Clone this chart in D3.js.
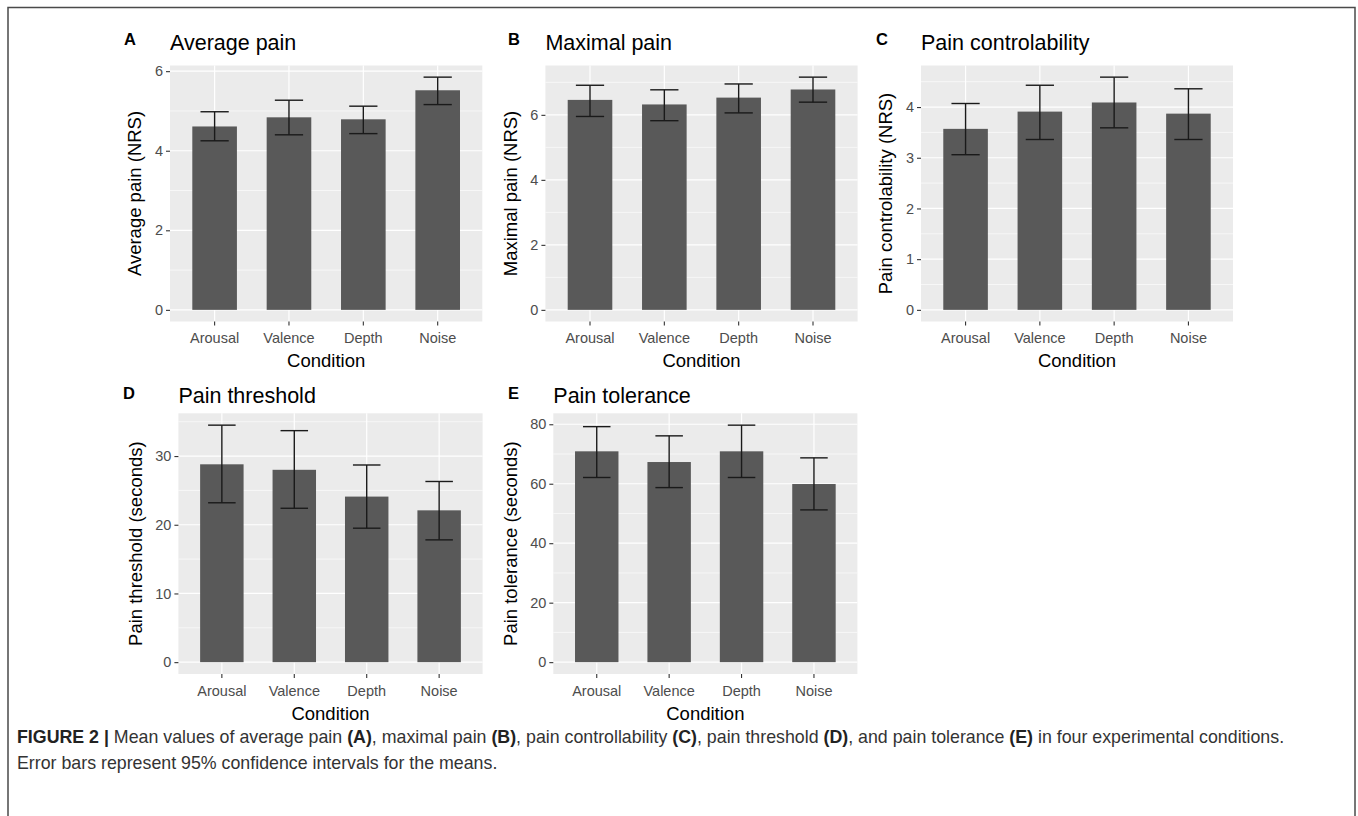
<!DOCTYPE html>
<html>
<head>
<meta charset="utf-8">
<script src="https://cdn.jsdelivr.net/npm/d3@7"></script>
<style>
  html, body { margin: 0; padding: 0; background: #ffffff; }
  svg { display: block; }
</style>
</head>
<body>
<svg id="chart" width="1358" height="816"></svg>
<script>
// ---------------- DATA ----------------
const categories = ["Arousal", "Valence", "Depth", "Noise"];

const avgPainMean = [4.61, 4.84, 4.79, 5.52];
const avgPainLow  = [4.25, 4.40, 4.43, 5.16];
const avgPainHigh = [4.98, 5.27, 5.12, 5.85];
const avgPainTicks = [0, 2, 4, 6];
const avgPainMinor = [1, 3, 5];

const maxPainMean = [6.46, 6.32, 6.53, 6.78];
const maxPainLow  = [5.95, 5.82, 6.06, 6.39];
const maxPainHigh = [6.91, 6.77, 6.95, 7.16];
const maxPainTicks = [0, 2, 4, 6];
const maxPainMinor = [1, 3, 5, 7];

const controlMean = [3.57, 3.91, 4.09, 3.87];
const controlLow  = [3.06, 3.36, 3.59, 3.36];
const controlHigh = [4.07, 4.43, 4.59, 4.36];
const controlTicks = [0, 1, 2, 3, 4];
const controlMinor = [0.5, 1.5, 2.5, 3.5, 4.5];

const thresholdMean = [28.8, 28.0, 24.1, 22.1];
const thresholdLow  = [23.2, 22.4, 19.5, 17.8];
const thresholdHigh = [34.5, 33.7, 28.7, 26.3];
const thresholdTicks = [0, 10, 20, 30];
const thresholdMinor = [5, 15, 25, 35];

const toleranceMean = [70.9, 67.3, 70.9, 59.9];
const toleranceLow  = [62.1, 58.7, 62.1, 51.2];
const toleranceHigh = [79.2, 76.1, 79.7, 68.7];
const toleranceTicks = [0, 20, 40, 60, 80];
const toleranceMinor = [10, 30, 50, 70];

const panelLetters = ["A", "B", "C", "D", "E"];
const panelTitles = ["Average pain", "Maximal pain", "Pain controlability", "Pain threshold", "Pain tolerance"];
const yTitles = ["Average pain (NRS)", "Maximal pain (NRS)", "Pain controlability (NRS)", "Pain threshold (seconds)", "Pain tolerance (seconds)"];
const xTitle = "Condition";

// ---------------- LAYOUT ----------------
const FONT = "'Liberation Sans', Arial, Helvetica, sans-serif";
const layout = [
  {left: 170.0, right: 482.3, top: 65.5, bottom: 321.5, letterX: 124, letterY: 45, titleY: 50},
  {left: 545.4, right: 857.6, top: 65.5, bottom: 321.5, letterX: 508, letterY: 45, titleY: 50},
  {left: 921.0, right: 1233.0, top: 65.5, bottom: 321.5, letterX: 876, letterY: 45, titleY: 50},
  {left: 178.4, right: 482.6, top: 413.3, bottom: 674.0, letterX: 123, letterY: 399, titleY: 403},
  {left: 553.3, right: 857.4, top: 413.3, bottom: 674.0, letterX: 508, letterY: 399, titleY: 403}
];

const panels = [
  {mean: avgPainMean, low: avgPainLow, high: avgPainHigh, ticks: avgPainTicks, minor: avgPainMinor},
  {mean: maxPainMean, low: maxPainLow, high: maxPainHigh, ticks: maxPainTicks, minor: maxPainMinor},
  {mean: controlMean, low: controlLow, high: controlHigh, ticks: controlTicks, minor: controlMinor},
  {mean: thresholdMean, low: thresholdLow, high: thresholdHigh, ticks: thresholdTicks, minor: thresholdMinor},
  {mean: toleranceMean, low: toleranceLow, high: toleranceHigh, ticks: toleranceTicks, minor: toleranceMinor}
];

const svg = d3.select("#chart");

// outer frame
svg.append("rect")
  .attr("x", 8).attr("y", 7.5)
  .attr("width", 1347).attr("height", 830)
  .attr("fill", "none").attr("stroke", "#4a4a4a").attr("stroke-width", 1.5);

panels.forEach((p, i) => {
  const L = layout[i];
  const g = svg.append("g");

  const hiMax = d3.max(p.high);
  const pad = hiMax * 0.05;
  const y = d3.scaleLinear().domain([-pad, hiMax + pad]).range([L.bottom, L.top]);
  const x = d3.scaleBand().domain(categories).range([L.left, L.right])
    .paddingInner(0.4).paddingOuter(0.3);
  const step = x.step();

  // panel background
  g.append("rect")
    .attr("x", L.left).attr("y", L.top)
    .attr("width", L.right - L.left).attr("height", L.bottom - L.top)
    .attr("fill", "#EBEBEB");

  // minor grid
  g.selectAll(".minor").data(p.minor.filter(v => y(v) >= L.top)).enter().append("line")
    .attr("x1", L.left).attr("x2", L.right)
    .attr("y1", d => y(d)).attr("y2", d => y(d))
    .attr("stroke", "#ffffff").attr("stroke-width", 0.6);

  // major grid (y)
  g.selectAll(".major").data(p.ticks).enter().append("line")
    .attr("x1", L.left).attr("x2", L.right)
    .attr("y1", d => y(d)).attr("y2", d => y(d))
    .attr("stroke", "#ffffff").attr("stroke-width", 1.2);

  // major grid (x)
  g.selectAll(".xmajor").data(categories).enter().append("line")
    .attr("x1", d => x(d) + x.bandwidth() / 2).attr("x2", d => x(d) + x.bandwidth() / 2)
    .attr("y1", L.top).attr("y2", L.bottom)
    .attr("stroke", "#ffffff").attr("stroke-width", 1.2);

  // bars
  g.selectAll(".bar").data(categories).enter().append("rect")
    .attr("x", d => x(d))
    .attr("width", x.bandwidth())
    .attr("y", (d, j) => y(p.mean[j]))
    .attr("height", (d, j) => y(0) - y(p.mean[j]))
    .attr("fill", "#595959");

  // error bars
  const capHalf = step * 0.19;
  categories.forEach((c, j) => {
    const cx = x(c) + x.bandwidth() / 2;
    const eg = g.append("g").attr("stroke", "#1a1a1a").attr("stroke-width", 1.4).attr("fill", "none");
    eg.append("line").attr("x1", cx).attr("x2", cx).attr("y1", y(p.low[j])).attr("y2", y(p.high[j]));
    eg.append("line").attr("x1", cx - capHalf).attr("x2", cx + capHalf).attr("y1", y(p.high[j])).attr("y2", y(p.high[j]));
    eg.append("line").attr("x1", cx - capHalf).attr("x2", cx + capHalf).attr("y1", y(p.low[j])).attr("y2", y(p.low[j]));
  });

  // y axis
  const yAxis = d3.axisLeft(y).tickValues(p.ticks).tickSize(4).tickPadding(3).tickFormat(d3.format("d"));
  const ya = g.append("g").attr("transform", `translate(${L.left},0)`).call(yAxis);
  ya.select(".domain").remove();
  ya.selectAll(".tick line").attr("stroke", "#333333").attr("stroke-width", 1.1);
  ya.selectAll(".tick text").attr("fill", "#4D4D4D").style("font-family", FONT).style("font-size", "14.5px");

  // x axis
  const xAxis = d3.axisBottom(x).tickSize(4).tickPadding(4);
  const xa = g.append("g").attr("transform", `translate(0,${L.bottom})`).call(xAxis);
  xa.select(".domain").remove();
  xa.selectAll(".tick line").attr("stroke", "#333333").attr("stroke-width", 1.1);
  xa.selectAll(".tick text").attr("fill", "#4D4D4D").style("font-family", FONT).style("font-size", "14.5px")
    .attr("dy", null).attr("y", 21.5).attr("dominant-baseline", "alphabetic");

  // x title
  g.append("text")
    .attr("x", (L.left + L.right) / 2).attr("y", L.bottom + 45.5)
    .attr("text-anchor", "middle")
    .style("font-family", FONT).style("font-size", "18.5px").attr("fill", "#000")
    .text(xTitle);

  // y title: position based on tick label width
  let maxW = 0;
  ya.selectAll(".tick text").each(function() { maxW = Math.max(maxW, this.getBBox().width); });
  const yTitleX = L.left - 20.5 - maxW;
  g.append("text")
    .attr("transform", `translate(${yTitleX},${(L.top + L.bottom) / 2}) rotate(-90)`)
    .attr("text-anchor", "middle")
    .style("font-family", FONT).style("font-size", "18.5px").attr("fill", "#000")
    .text(yTitles[i]);

  // plot title
  g.append("text")
    .attr("x", L.left).attr("y", L.titleY)
    .style("font-family", FONT).style("font-size", "21.5px").attr("fill", "#000")
    .text(panelTitles[i]);

  // panel letter
  g.append("text")
    .attr("x", L.letterX).attr("y", L.letterY)
    .style("font-family", FONT).style("font-size", "16.5px").style("font-weight", "bold").attr("fill", "#000")
    .text(panelLetters[i]);
});

// ---------------- CAPTION ----------------
const captionLine1 = [
  ["FIGURE 2 | ", true], ["Mean values of average pain ", false], ["(A)", true],
  [", maximal pain ", false], ["(B)", true], [", pain controllability ", false], ["(C)", true],
  [", pain threshold ", false], ["(D)", true], [", and pain tolerance ", false], ["(E)", true],
  [" in four experimental conditions.", false]
];
const captionLine2 = "Error bars represent 95% confidence intervals for the means.";

const cap1 = svg.append("text")
  .attr("x", 17).attr("y", 743)
  .style("font-family", FONT).style("font-size", "17.8px").attr("fill", "#333333");
captionLine1.forEach(([t, b]) => {
  cap1.append("tspan").style("font-weight", b ? "bold" : "normal").attr("fill", b ? "#222" : "#333").text(t);
});
svg.append("text")
  .attr("x", 17).attr("y", 769)
  .style("font-family", FONT).style("font-size", "17.8px").attr("fill", "#333333")
  .text(captionLine2);
</script>
</body>
</html>
